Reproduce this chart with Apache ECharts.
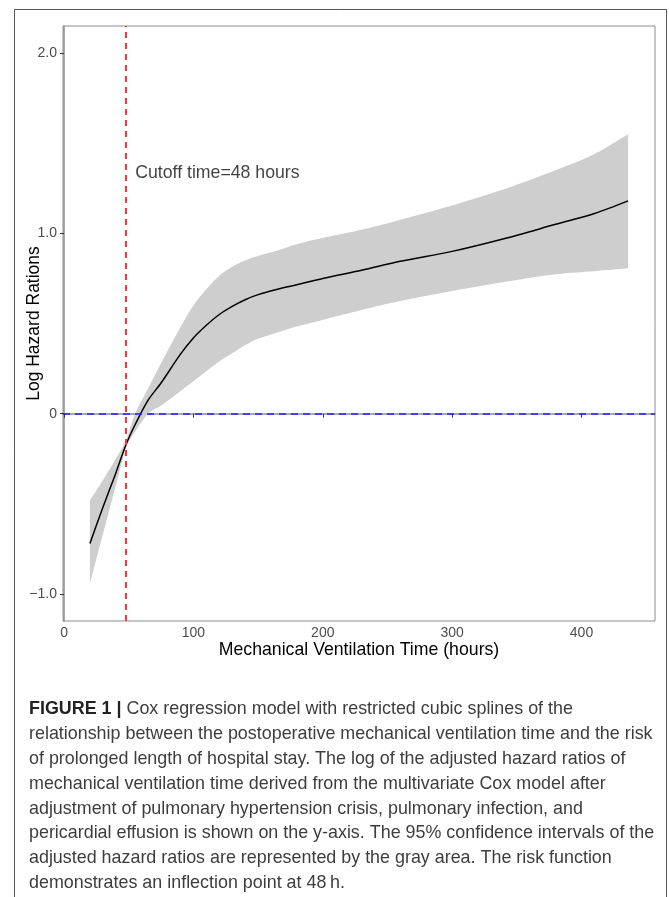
<!DOCTYPE html>
<html lang="en">
<head>
    <meta charset="UTF-8">
    <title>Cox regression spline</title>
    <style>
        html, body { margin: 0; padding: 0; background: #fff; }
        #chart { width: 669px; height: 897px; }
    </style>
</head>
<body>
    <div id="chart"></div>
    <script src="https://cdn.jsdelivr.net/npm/echarts@6/dist/echarts.min.js"></script>
    <script>
        // values
        const xHours = [20, 30, 40, 48, 55, 65, 75, 90, 100, 110, 120, 130, 140, 150, 165, 180, 200, 230, 260, 300, 340, 380, 410, 436];
        const logHR = [-0.72, -0.52, -0.33, -0.17, -0.06, 0.075, 0.17, 0.33, 0.42, 0.49, 0.55, 0.595, 0.632, 0.66, 0.69, 0.715, 0.75, 0.795, 0.845, 0.90, 0.97, 1.05, 1.11, 1.18];
        const upperCI = [-0.48, -0.37, -0.25, -0.145, 0.0, 0.14, 0.28, 0.48, 0.60, 0.69, 0.765, 0.815, 0.85, 0.875, 0.905, 0.94, 0.975, 1.02, 1.075, 1.155, 1.245, 1.35, 1.44, 1.55];
        const lowerCI = [-0.94, -0.67, -0.40, -0.19, -0.10, 0.0, 0.045, 0.125, 0.18, 0.235, 0.29, 0.335, 0.38, 0.415, 0.45, 0.483, 0.52, 0.575, 0.625, 0.68, 0.73, 0.773, 0.79, 0.807];

        const xTicks = [0, 100, 200, 300, 400];
        const yTicks = [-1, 0, 1, 2];
        const yTickLabels = ['\u22121.0', '0', '1.0', '2.0'];

        const cutoffHours = 48;
        const cutoffLabel = 'Cutoff time=48 hours';

        const captionLines = [
            '{b|FIGURE 1 |} Cox regression model with restricted cubic splines of the',
            'relationship between the postoperative mechanical ventilation time and the risk',
            'of prolonged length of hospital stay. The log of the adjusted hazard ratios of',
            'mechanical ventilation time derived from the multivariate Cox model after',
            'adjustment of pulmonary hypertension crisis, pulmonary infection, and',
            'pericardial effusion is shown on the y-axis. The 95% confidence intervals of the',
            'adjusted hazard ratios are represented by the gray area. The risk function',
            'demonstrates an inflection point at 48\u2009h.'
        ];

        const FONT = '"Liberation Sans", Arial, Helvetica, sans-serif';

        // catmull-rom sampling in pixel space, just for drawing a smooth band edge
        function smoothPts(pts) {
            const out = [];
            for (let i = 0; i < pts.length - 1; i++) {
                const p0 = pts[Math.max(i - 1, 0)], p1 = pts[i], p2 = pts[i + 1], p3 = pts[Math.min(i + 2, pts.length - 1)];
                for (let k = 0; k < 8; k++) {
                    const t = k / 8, t2 = t * t, t3 = t2 * t;
                    out.push([0, 1].map(d => 0.5 * ((2 * p1[d]) + (-p0[d] + p2[d]) * t +
                        (2 * p0[d] - 5 * p1[d] + 4 * p2[d] - p3[d]) * t2 +
                        (-p0[d] + 3 * p1[d] - 3 * p2[d] + p3[d]) * t3)));
                }
            }
            out.push(pts[pts.length - 1]);
            return out;
        }

        const bandData = xHours.map((x, i) => [x, upperCI[i], lowerCI[i]]);
        const lineData = xHours.map((x, i) => [x, logHR[i]]);

        const captionGraphics = captionLines.map((line, i) => ({
            type: 'text',
            left: 29,
            top: 700 + i * 24.9,
            silent: true,
            style: {
                text: line,
                fill: '#3d3d3d',
                font: '17.9px ' + FONT,
                rich: {
                    b: { fontWeight: 'bold', fill: '#222', fontSize: 17.9, fontFamily: FONT }
                }
            }
        }));

        const chart = echarts.init(document.getElementById('chart'), null, { renderer: 'canvas' });

        chart.setOption({
            animation: false,
            backgroundColor: '#fff',
            textStyle: { fontFamily: FONT },
            grid: {
                left: 63, right: 14, top: 26, bottom: 276,
                show: true, borderColor: '#8c8c8c', borderWidth: 1,
                containLabel: false,
                outerBoundsMode: 'none'
            },
            xAxis: {
                type: 'value',
                min: -0.8,
                max: 456.8,
                name: 'Mechanical Ventilation Time (hours)',
                nameLocation: 'middle',
                nameGap: 20,
                nameMoveOverlap: false,
                nameTextStyle: { fontSize: 17.7, color: '#000' },
                axisLine: { show: true, lineStyle: { color: '#8c8c8c', width: 1.5 } },
                axisTick: { show: true, length: 4, customValues: xTicks, lineStyle: { color: '#333' } },
                axisLabel: { customValues: xTicks, margin: 5, fontSize: 14, color: '#4d4d4d' },
                splitLine: { show: false }
            },
            yAxis: {
                type: 'value',
                min: -1.15,
                max: 2.15,
                name: 'Log Hazard Rations',
                nameLocation: 'middle',
                nameGap: 20,
                nameMoveOverlap: false,
                nameTextStyle: { fontSize: 17.5, color: '#000' },
                axisLine: { show: true, lineStyle: { color: '#8c8c8c', width: 1.5 } },
                axisTick: { show: true, length: 4, customValues: yTicks, lineStyle: { color: '#333' } },
                axisLabel: {
                    customValues: yTicks, margin: 6, fontSize: 14, color: '#4d4d4d',
                    formatter: v => yTickLabels[yTicks.indexOf(v)]
                },
                splitLine: { show: false }
            },
            graphic: [
                {
                    type: 'rect',
                    silent: true,
                    shape: { x: 14.5, y: 9.5, width: 652, height: 900 },
                    style: { fill: 'none', stroke: '#555', lineWidth: 1 }
                }
            ].concat(captionGraphics),
            series: [
                {
                    name: 'ci',
                    type: 'custom',
                    data: bandData,
                    encode: { x: 0, y: [1, 2] },
                    silent: true,
                    z: 1,
                    renderItem: (params, api) => {
                        if (params.dataIndex !== 0) return null;
                        const up = smoothPts(xHours.map((x, i) => api.coord([x, upperCI[i]])));
                        const lo = smoothPts(xHours.map((x, i) => api.coord([x, lowerCI[i]]))).reverse();
                        return {
                            type: 'polygon',
                            shape: { points: up.concat(lo) },
                            style: { fill: '#cecece', stroke: null }
                        };
                    }
                },
                {
                    name: 'logHR',
                    type: 'line',
                    data: lineData,
                    symbol: 'none',
                    smooth: 0.3,
                    lineStyle: { color: '#000', width: 1.5 },
                    z: 3,
                    markLine: {
                        silent: true,
                        symbol: 'none',
                        label: { show: false },
                        data: [
                            { xAxis: cutoffHours, lineStyle: { color: '#ff3333', width: 2, type: [6, 5] } },
                            { yAxis: 0, lineStyle: { color: '#1f1ff5', width: 1.5, type: [7, 5] } }
                        ]
                    }
                },
                {
                    name: 'label',
                    type: 'scatter',
                    data: [[55, 1.333]],
                    symbolSize: 0,
                    silent: true,
                    label: {
                        show: true,
                        position: 'right',
                        distance: 0,
                        formatter: cutoffLabel,
                        fontSize: 17.7,
                        color: '#111'
                    },
                    z: 4
                }
            ]
        });
    </script>
</body>
</html>
